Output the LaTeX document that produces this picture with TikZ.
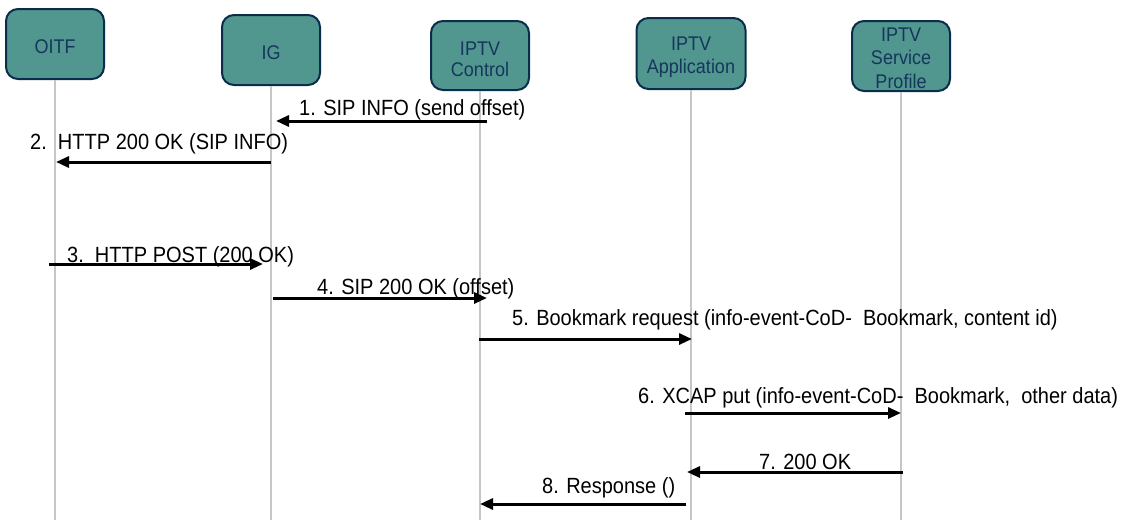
\documentclass[tikz,border=0pt]{standalone}
\usepackage{fontspec}
\setmainfont{Liberation Sans}
\usetikzlibrary{arrows.meta}
\definecolor{boxfill}{RGB}{82,150,144}
\definecolor{boxdraw}{RGB}{10,45,75}
\definecolor{boxtext}{RGB}{20,55,90}
\definecolor{lifegray}{RGB}{198,198,198}
\newcommand\tallt[1]{\scalebox{1}[1.1]{#1}}
\begin{document}
\begin{tikzpicture}[x=1pt,y=-1pt,
  entity/.style={draw=boxdraw, line width=2pt, fill=boxfill, rounded corners=12pt,
    inner sep=0pt, minimum width=98pt, minimum height=70pt},
  etext/.style={text=boxtext, align=center, font=\fontsize{18}{21}\selectfont, inner sep=0pt},
  life/.style={draw=lifegray, line width=1.5pt},
  msg/.style={draw=black, line width=3pt, -{Triangle[length=13pt,width=11pt]}},
  lbl/.style={anchor=base west, font=\fontsize{20}{24}\selectfont, inner sep=0pt}]
\useasboundingbox (0,0) rectangle (1128,520);
\coordinate (bot) at (0,520);
% entities
\node[entity] (oitf) at (55,44) {};
\node[entity] (ig) at (271,50) {};
\node[entity, minimum height=69pt] (ctl) at (480,55.5) {};
\node[entity, minimum width=109pt, minimum height=71pt] (app) at (691,53.5) {};
\node[entity] (sp) at (901,56) {};
\node[etext] (oitft) at ([yshift=-3pt]oitf.center) {\tallt{OITF}};
\node[etext] (igt) at ([yshift=-3pt]ig.center) {\tallt{IG}};
\node[etext] (ctlt) at ([yshift=-4pt]ctl.center) {\tallt{IPTV}\\\tallt{Control}};
\node[etext, font=\fontsize{18}{23}\selectfont] (appt) at ([yshift=-4pt]app.center) {\tallt{IPTV}\\\tallt{Application}};
\node[etext, font=\fontsize{18}{23.5}\selectfont] (spt) at ([yshift=-2pt]sp.center) {\tallt{IPTV}\\\tallt{Service}\\\tallt{Profile}};
% lifelines
\draw[life] (oitf.south) -- (oitf.south |- bot);
\draw[life] (ig.south) -- (ig.south |- bot);
\draw[life] (ctl.south) -- (ctl.south |- bot);
\draw[life] (app.south) -- (app.south |- bot);
\draw[life] (sp.south) -- (sp.south |- bot);
% message end points
\coordinate (m1a) at (487,121); \coordinate (m1b) at (276,121);
\coordinate (m2a) at (271,162); \coordinate (m2b) at (56,162);
\coordinate (m3a) at (49,264);  \coordinate (m3b) at (263,264);
\coordinate (m4a) at (273,298); \coordinate (m4b) at (487,298);
\coordinate (m5a) at (479,339); \coordinate (m5b) at (692,339);
\coordinate (m6a) at (685,413); \coordinate (m6b) at (901,413);
\coordinate (m7a) at (903,472); \coordinate (m7b) at (687,472);
\coordinate (m8a) at (686,504); \coordinate (m8b) at (480,504);
% messages
\draw[msg] (m1a) -- (m1b);
\draw[msg] (m2a) -- (m2b);
\draw[msg] (m3a) -- (m3b);
\draw[msg] (m4a) -- (m4b);
\draw[msg] (m5a) -- (m5b);
\draw[msg] (m6a) -- (m6b);
\draw[msg] (m7a) -- (m7b);
\draw[msg] (m8a) -- (m8b);
% labels
\node[lbl] (t1) at (299,115) {\tallt{1. SIP INFO (send offset)}};
\node[lbl] (t2) at (30,149) {\tallt{2.\ \ HTTP 200 OK (SIP INFO)}};
\node[lbl] (t3) at (67,262) {\tallt{3.\ \ HTTP POST (200 OK)}};
\node[lbl] (t4) at (317,294) {\tallt{4. SIP 200 OK (offset)}};
\node[lbl] (t5) at (512,325) {\tallt{5. Bookmark request (info-event-CoD-\ \ Bookmark, content id)}};
\node[lbl] (t6) at (638,403) {\tallt{6. XCAP put (info-event-CoD-\ \ Bookmark,\ \ other data)}};
\node[lbl] (t7) at (759,469) {\tallt{7. 200 OK}};
\node[lbl] (t8) at (542,493) {\tallt{8. Response ()}};
\end{tikzpicture}
\end{document}
